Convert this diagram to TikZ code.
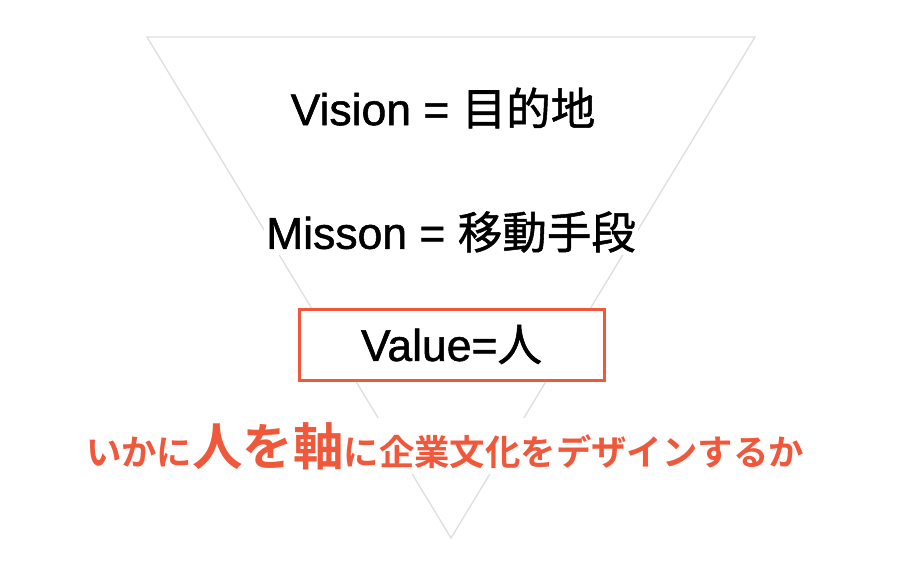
\documentclass[tikz,border=0pt]{standalone}
\usepackage{fontspec}
\setmainfont{Liberation Sans}[FakeBold=1.2]
\newfontfamily\cjk{Noto Sans CJK JP}[FakeBold=1.2]
\newfontfamily\cjkbold{Noto Sans CJK JP Bold}
\usetikzlibrary{positioning}
\definecolor{accent}{RGB}{240,88,60}
\definecolor{edgegray}{RGB}{222,222,222}

\begin{document}
\begin{tikzpicture}[x=1pt,y=-1pt,
  layer/.style={fill=white,inner sep=2pt,font=\fontsize{44.5}{50}\selectfont},
  valuebox/.style={layer,draw=accent,line width=3pt,minimum width=305pt,minimum height=71pt},
  slogan/.style={fill=white,text=accent,inner sep=4pt,font=\cjkbold\fontsize{35.4}{40}\selectfont}]
\useasboundingbox (0,0) rectangle (898,566);
% inverted triangle
\coordinate (tl) at (147,37);
\coordinate (tr) at (755,37);
\coordinate (apex) at (451,538);
\draw[edgegray,line width=1.3pt,line join=miter] (tl) -- (tr) -- (apex) -- cycle;
% levels
\node[layer] (vision) at (443,108) {Vision = {\cjk 目的地}};
\node[layer] (mission) at (451,232) {Misson = {\cjk 移動手段}};
\node[valuebox] (value) at (451.5,344.5) {Value={\cjk 人}};
\node[slogan] (axis) at (445,446) {いかに{\fontsize{50.5}{56}\selectfont 人を軸}に企業文化をデザインするか};
\end{tikzpicture}
\end{document}
